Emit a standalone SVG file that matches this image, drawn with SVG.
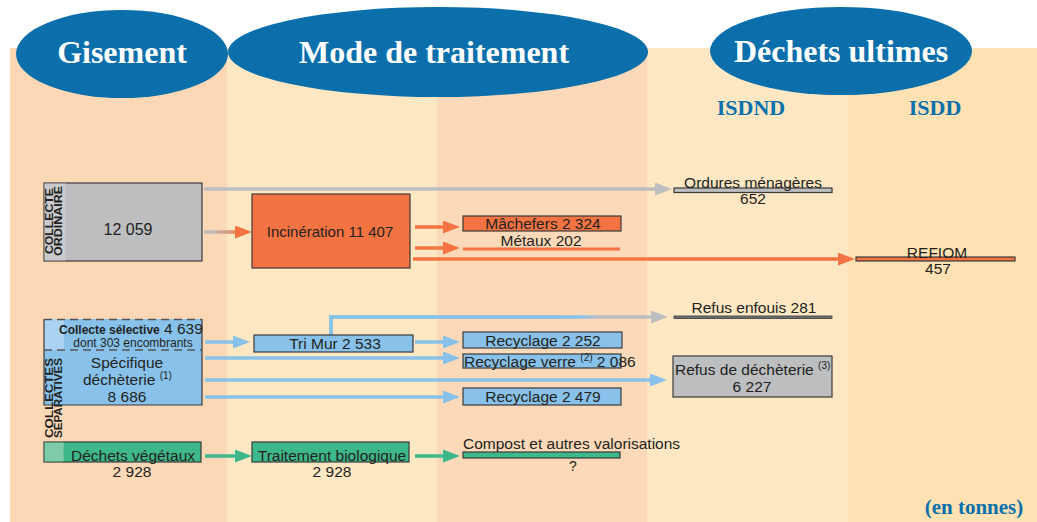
<svg xmlns="http://www.w3.org/2000/svg" width="1037" height="522" viewBox="0 0 1037 522">
<style>
.t{font-family:"Liberation Sans",Arial,sans-serif;font-size:15.5px;fill:#231F20}
.c{text-anchor:middle}
.sm{font-size:12px}
.b{font-weight:bold}
.sup{font-size:10px}
.vt{font-family:"Liberation Sans",Arial,sans-serif;font-size:10px;font-weight:bold;fill:#231F20;text-anchor:middle}
.head{font-family:"Liberation Serif","Times New Roman",serif;font-size:32px;font-weight:bold;fill:#FFFFFF;text-anchor:middle}
.sub{font-family:"Liberation Serif","Times New Roman",serif;font-size:22px;font-weight:bold;fill:#0A6FAA;text-anchor:middle}
.ell{fill:#0A6FAA}
.box{stroke:#3A3A3A;stroke-width:1.2}
.gray{fill:#BCBEC0}
.orange{fill:#F37342}
.blue{fill:#88C2EA}
.green{fill:#3DB88A}
.ln{fill:none;stroke-width:3.5}
</style>
<defs>
<marker id="aG" markerUnits="userSpaceOnUse" markerWidth="17" markerHeight="13" refX="7" refY="6.5" orient="auto"><path d="M0,0 L17,6.5 L0,13 z" fill="#BCBEC0"/></marker>
<marker id="aO" markerUnits="userSpaceOnUse" markerWidth="17" markerHeight="13" refX="7" refY="6.5" orient="auto"><path d="M0,0 L17,6.5 L0,13 z" fill="#F37342"/></marker>
<marker id="aB" markerUnits="userSpaceOnUse" markerWidth="17" markerHeight="13" refX="7" refY="6.5" orient="auto"><path d="M0,0 L17,6.5 L0,13 z" fill="#88C2EA"/></marker>
<marker id="aV" markerUnits="userSpaceOnUse" markerWidth="17" markerHeight="13" refX="7" refY="6.5" orient="auto"><path d="M0,0 L17,6.5 L0,13 z" fill="#3DB88A"/></marker>
<linearGradient id="gGO" gradientUnits="userSpaceOnUse" x1="212" y1="0" x2="242" y2="0"><stop offset="0" stop-color="#BCBEC0"/><stop offset="1" stop-color="#F37342"/></linearGradient>
<linearGradient id="gBG" gradientUnits="userSpaceOnUse" x1="578" y1="0" x2="600" y2="0"><stop offset="0" stop-color="#88C2EA"/><stop offset="1" stop-color="#BCBEC0"/></linearGradient>
</defs>

<!-- background columns -->
<g id="background">
<rect x="10" y="48" width="217" height="474" fill="#FCD8B7"/>
<rect x="227" y="48" width="210" height="474" fill="#FEE7C3"/>
<rect x="437" y="48" width="210" height="474" fill="#FCD9B8"/>
<rect x="647" y="48" width="201" height="474" fill="#FEE7C3"/>
<rect x="848" y="48" width="189" height="474" fill="#FEE2B4"/>
</g>

<!-- headers -->
<g id="header-gisement">
<ellipse class="ell" cx="122" cy="54" rx="106" ry="44"/>
<text class="head" x="122" y="63">Gisement</text>
</g>
<g id="header-mode">
<ellipse class="ell" cx="438" cy="52" rx="210" ry="45"/>
<text class="head" x="434" y="63">Mode de traitement</text>
</g>
<g id="header-dechets">
<ellipse class="ell" cx="841" cy="51" rx="131" ry="44"/>
<text class="head" x="841" y="62">Déchets ultimes</text>
</g>
<g id="label-isdnd"><text class="sub" x="751" y="115">ISDND</text></g>
<g id="label-isdd"><text class="sub" x="935" y="115">ISDD</text></g>
<g id="label-unit"><text class="sub" x="974" y="514" style="font-size:21px">(en tonnes)</text></g>

<!-- connectors -->
<g id="connectors">
<line class="ln" x1="204" y1="189" x2="662" y2="189" stroke="#BCBEC0" marker-end="url(#aG)"/>
<line class="ln" x1="204" y1="232" x2="242" y2="232" stroke="url(#gGO)" marker-end="url(#aO)"/>
<line class="ln" x1="415" y1="227" x2="450" y2="227" stroke="#F37342" marker-end="url(#aO)"/>
<line class="ln" x1="415" y1="248" x2="450" y2="248" stroke="#F37342" marker-end="url(#aO)"/>
<line class="ln" x1="413" y1="259" x2="845" y2="259" stroke="#F37342" marker-end="url(#aO)"/>
<line class="ln" x1="205" y1="342" x2="240" y2="342" stroke="#88C2EA" marker-end="url(#aB)"/>
<line class="ln" x1="415" y1="342" x2="450" y2="342" stroke="#88C2EA" marker-end="url(#aB)"/>
<path class="ln" d="M331,335 V317 H658" stroke="url(#gBG)" marker-end="url(#aG)"/>
<path class="ln" d="M331,335 V317 H560" stroke="#88C2EA"/>
<line class="ln" x1="205" y1="358" x2="450" y2="358" stroke="#88C2EA" marker-end="url(#aB)"/>
<line class="ln" x1="205" y1="380" x2="657" y2="380" stroke="#88C2EA" marker-end="url(#aB)"/>
<line class="ln" x1="205" y1="397" x2="450" y2="397" stroke="#88C2EA" marker-end="url(#aB)"/>
<line class="ln" x1="205" y1="456" x2="242" y2="456" stroke="#3DB88A" marker-end="url(#aV)"/>
<line class="ln" x1="415" y1="456" x2="450" y2="456" stroke="#3DB88A" marker-end="url(#aV)"/>
</g>

<!-- Collecte ordinaire -->
<g id="collecte-ordinaire">
<rect class="box gray" x="44" y="183" width="158" height="78"/>
<rect x="44.6" y="183.6" width="21" height="76.8" fill="#C9CACD"/>
<text class="vt" transform="translate(53,221) rotate(-90)" textLength="66" lengthAdjust="spacingAndGlyphs">COLLECTE</text>
<text class="vt" transform="translate(62,221) rotate(-90)" textLength="70" lengthAdjust="spacingAndGlyphs">ORDINAIRE</text>
<text class="t c" x="128" y="235" style="font-size:16px">12 059</text>
</g>

<g id="incineration">
<rect class="box orange" x="252" y="194" width="158" height="74"/>
<text class="t c" x="330" y="237" style="font-size:15px">Incinération 11 407</text>
</g>

<g id="machefers">
<rect class="box orange" x="463" y="216" width="158" height="15"/>
<text class="t c" x="543" y="229">Mâchefers 2 324</text>
</g>

<g id="metaux">
<text class="t c" x="541" y="246">Métaux 202</text>
<line x1="463" y1="249" x2="620" y2="249" stroke="#F37342" stroke-width="3"/>
</g>

<g id="ordures-menageres">
<rect class="box gray" x="674" y="188" width="158" height="4.5"/>
<text class="t c" x="753" y="188">Ordures ménagères</text>
<text class="t c" x="753" y="204">652</text>
</g>

<g id="refiom">
<rect class="box orange" x="856" y="257" width="159" height="4"/>
<text class="t c" x="937" y="258">REFIOM</text>
<text class="t c" x="938" y="274">457</text>
</g>

<!-- Collectes séparatives -->
<g id="collectes-separatives">
<rect class="blue" x="44" y="319" width="158" height="86"/>
<rect x="44" y="319" width="20" height="31" fill="#A9D3F1"/>
<path d="M44,319 V405 H202 V319" fill="none" stroke="#3A3A3A" stroke-width="1.2"/>
<line x1="44" y1="319.5" x2="202" y2="319.5" stroke="#555" stroke-width="1.5" stroke-dasharray="8,5"/>
<line x1="44" y1="350" x2="202" y2="350" stroke="#555" stroke-width="1.5" stroke-dasharray="8,5"/>
<text class="t" x="59" y="334"><tspan class="sm b">Collecte sélective</tspan> 4 639</text>
<text class="t sm c" x="133" y="347">dont 303 encombrants</text>
<text class="t c" x="127" y="368">Spécifique</text>
<text class="t" x="83" y="385">déchèterie <tspan class="sup" dy="-6">(1)</tspan></text>
<text class="t c" x="127" y="402">8 686</text>
<text class="vt" transform="translate(53,398) rotate(-90)" textLength="80" lengthAdjust="spacingAndGlyphs">COLLECTES</text>
<text class="vt" transform="translate(62,398) rotate(-90)" textLength="80" lengthAdjust="spacingAndGlyphs">SÉPARATIVES</text>
</g>

<g id="tri-mur">
<rect class="box blue" x="254" y="335" width="159" height="17"/>
<text class="t c" x="335" y="349">Tri Mur 2 533</text>
</g>

<g id="recyclage-1">
<rect class="box blue" x="463" y="332" width="159" height="16"/>
<text class="t c" x="543" y="346">Recyclage 2 252</text>
</g>

<g id="recyclage-verre">
<rect class="box blue" x="463" y="354" width="158" height="14"/>
<text class="t" x="464" y="367">Recyclage verre <tspan class="sup" dy="-6">(2)</tspan><tspan dy="6"> 2 086</tspan></text>
</g>

<g id="recyclage-2">
<rect class="box blue" x="463" y="388" width="158" height="17"/>
<text class="t c" x="543" y="402">Recyclage 2 479</text>
</g>

<g id="refus-enfouis">
<rect x="674" y="316" width="158" height="2.5" fill="#6D6E71" stroke="#3A3A3A" stroke-width="0.8"/>
<text class="t c" x="754" y="313">Refus enfouis 281</text>
</g>

<g id="refus-decheterie">
<rect class="box gray" x="673" y="356" width="159" height="41"/>
<text class="t" x="675" y="375">Refus de déchèterie <tspan class="sup" dy="-6">(3)</tspan></text>
<text class="t c" x="752" y="392">6 227</text>
</g>

<!-- Déchets végétaux -->
<g id="dechets-vegetaux">
<rect class="box green" x="44" y="442" width="157" height="20"/>
<rect x="44.6" y="442.6" width="19" height="18.8" fill="#7ECBA9"/>
<text class="t c" x="133" y="461">Déchets végétaux</text>
<text class="t c" x="132" y="477">2 928</text>
</g>

<g id="traitement-biologique">
<rect class="box green" x="252" y="442" width="157" height="20"/>
<text class="t c" x="332" y="461">Traitement biologique</text>
<text class="t c" x="332" y="477">2 928</text>
</g>

<g id="compost">
<rect class="box green" x="463" y="452" width="157" height="6"/>
<text class="t" x="463" y="449">Compost et autres valorisations</text>
<text class="t c" x="573" y="471" style="font-size:14px">?</text>
</g>
</svg>
